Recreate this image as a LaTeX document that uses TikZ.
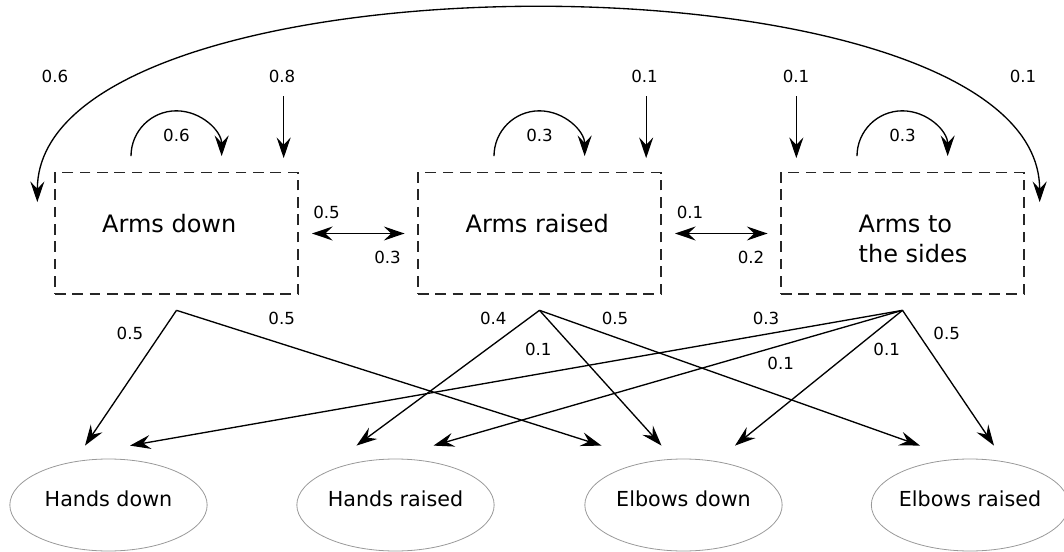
\documentclass[tikz,border=0pt]{standalone}
\usepackage{fontspec}
\setmainfont{DejaVu Sans}
\usetikzlibrary{arrows.meta,calc,shapes.geometric}

\begin{document}
\begin{tikzpicture}[
        x=0.75pt, y=-0.75pt,
        >={Stealth[length=15.5pt, width=10.5pt, inset=5.5pt]},
        every path/.style={line width=1pt},
        pose/.style={draw=black!85, dash pattern=on 8pt off 5pt, minimum width=182.25pt, minimum height=91pt, inner sep=0pt},
        posetext/.style={anchor=base west, inner sep=0pt, align=left, font=\fontsize{18}{22.5}\selectfont},
        obs/.style={draw=black!40, line width=0.6pt, ellipse, minimum width=148pt, minimum height=69pt, inner xsep=-10pt, text depth=10pt, font=\fontsize{15.5}{18}\selectfont},
        prob/.style={inner sep=0pt, font=\fontsize{12.5}{15}\selectfont},
    ]
    \useasboundingbox (0,0) rectangle (1064,552);

    % hidden states
    \node[pose] (down) at (176.5,233.5) {};
    \node[pose] (raised) at (539.5,233.5) {};
    \node[pose] (sides) at (902.5,233.5) {};
    \node[posetext] (down-txt) at (101.5,233) {Arms down};
    \node[posetext] (raised-txt) at (465,233) {Arms raised};
    \node[posetext] (sides-txt) at (858,263) {Arms to\\the sides};

    % observations
    \node[obs] (hdown) at (108.5,505) {Hands down};
    \node[obs] (hraised) at (395.5,505) {Hands raised};
    \node[obs] (edown) at (683.5,505) {Elbows down};
    \node[obs] (eraised) at (970,505) {Elbows raised};

    % start probabilities
    \coordinate (down-in) at ($(down.north east)+(-15,-76)$);
    \coordinate (raised-in) at ($(raised.north east)+(-15.5,-76)$);
    \coordinate (sides-in) at ($(sides.north west)+(16,-76)$);
    \draw[->, shorten >=10.5pt] (down-in) -- (down-in |- down.north);
    \draw[->, shorten >=10.5pt] (raised-in) -- (raised-in |- raised.north);
    \draw[->, shorten >=10.5pt] (sides-in) -- (sides-in |- sides.north);
    \node[prob] (p-down-in) at (282,76) {0.8};
    \node[prob] (p-raised-in) at (644.5,76) {0.1};
    \node[prob] (p-sides-in) at (796,76) {0.1};

    % self transitions
    \coordinate (down-loop) at ($(down.north)+(-45.5,-16)$);
    \coordinate (raised-loop) at ($(raised.north)+(-45.5,-16)$);
    \coordinate (sides-loop) at ($(sides.north)+(-45.5,-16)$);
    \draw[->] (down-loop) arc[start angle=180, end angle=0, radius=34pt];
    \draw[->] (raised-loop) arc[start angle=180, end angle=0, radius=34pt];
    \draw[->] (sides-loop) arc[start angle=180, end angle=0, radius=34pt];
    \node[prob] (p-down-loop) at ($(down.north)+(0,-36.5)$) {0.6};
    \node[prob] (p-raised-loop) at ($(raised.north)+(0,-36.5)$) {0.3};
    \node[prob] (p-sides-loop) at ($(sides.north)+(0,-36.5)$) {0.3};

    % transitions between states
    \coordinate (wrap-l) at ($(down.north west)+(-17,30)$);
    \coordinate (wrap-r) at ($(sides.north east)+(15,30)$);
    \draw[<->] (wrap-l) .. controls +(0,-257) and +(0,-257) .. (wrap-r);
    \node[prob] (p-wrap-l) at (55,76) {0.6};
    \node[prob] (p-wrap-r) at (1023,76) {0.1};

    \draw[<->, shorten <=10pt, shorten >=9.6pt] (down) -- (raised);
    \draw[<->, shorten <=10pt, shorten >=9.6pt] (raised) -- (sides);
    \node[prob] (p-dr) at (326.5,212.7) {0.5};
    \node[prob] (p-rd) at (387.5,257.3) {0.3};
    \node[prob] (p-rs) at (690,212.7) {0.1};
    \node[prob] (p-sr) at (751,257.3) {0.2};

    % emissions
    \coordinate (down-out) at ($(down.south)+(0,15.5)$);
    \coordinate (raised-out) at ($(raised.south)+(0,15.5)$);
    \coordinate (sides-out) at ($(sides.south)+(0,15.5)$);

    \draw[->] (down-out) -- ($(hdown.north)+(-23.5,-13)$);
    \draw[->] (down-out) -- ($(edown.north)+(-82,-13)$);
    \draw[->] (raised-out) -- ($(hraised.north)+(-39,-13)$);
    \draw[->] (raised-out) -- ($(edown.north)+(-22,-13)$);
    \draw[->] (raised-out) -- ($(eraised.north)+(-50,-13)$);
    \draw[->] (sides-out) -- ($(hdown.north)+(21.5,-13)$);
    \draw[->] (sides-out) -- ($(hraised.north)+(38,-13)$);
    \draw[->] (sides-out) -- ($(edown.north)+(51.5,-13)$);
    \draw[->] (sides-out) -- ($(eraised.north)+(24,-13)$);

    \node[prob] (p-d-hd) at (130,333.3) {0.5};
    \node[prob] (p-d-ed) at (281.7,318.3) {0.5};
    \node[prob] (p-r-hr) at (493.3,318.3) {0.4};
    \node[prob] (p-r-ed) at (538.3,349) {0.1};
    \node[prob] (p-r-er) at (615,318.3) {0.5};
    \node[prob] (p-s-hd) at (766,318.3) {0.3};
    \node[prob] (p-s-hr) at (780.7,363.3) {0.1};
    \node[prob] (p-s-ed) at (886.7,349) {0.1};
    \node[prob] (p-s-er) at (946.7,333.3) {0.5};
\end{tikzpicture}
\end{document}
